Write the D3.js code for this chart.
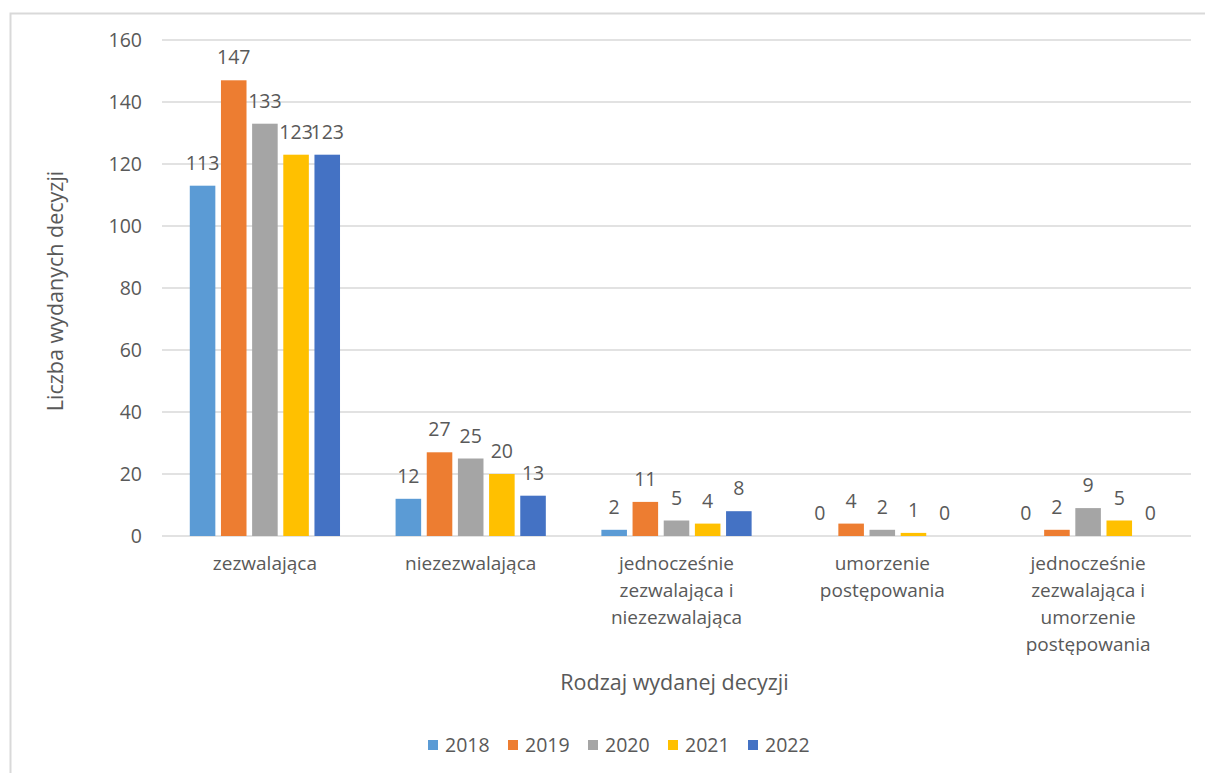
<!DOCTYPE html>
<html><head><meta charset="utf-8">
<script src="https://cdn.jsdelivr.net/npm/d3@7"></script>
<style>body{margin:0;background:#fff}svg{display:block}text{font-family:"Open Sans",sans-serif;fill:#595959}</style>
</head><body><svg id="c" width="1205" height="773"></svg>
<script>
const categories = ["zezwalająca","niezezwalająca","jednocześnie zezwalająca i niezezwalająca","umorzenie postępowania","jednocześnie zezwalająca i umorzenie postępowania"];
const years = ["2018","2019","2020","2021","2022"];
const v2018 = [113,12,2,0,0];
const v2019 = [147,27,11,4,2];
const v2020 = [133,25,5,2,9];
const v2021 = [123,20,4,1,5];
const v2022 = [123,13,8,0,0];
const yTicks = [0,20,40,60,80,100,120,140,160];
const colors = ["#5B9BD5","#ED7D31","#A5A5A5","#FFC000","#4472C4"];
const series = [v2018,v2019,v2020,v2021,v2022];

const svg = d3.select("#c");
svg.append("rect").attr("x",10.5).attr("y",13.5).attr("width",1210).attr("height",800)
  .attr("fill","none").attr("stroke","#d9d9d9").attr("stroke-width",2);

const L=162,R=1191,T=40,B=536;
const y = d3.scaleLinear().domain([0,160]).range([B,T]);
const x0 = d3.scaleBand().domain(categories).range([L,R]).padding(0);
const gpad = x0.bandwidth()*0.135;
const x1 = d3.scaleBand().domain(years).range([gpad, x0.bandwidth()-gpad]).paddingInner(0.18).paddingOuter(0);

// grid
svg.append("g").selectAll("line").data(yTicks).join("line")
  .attr("x1",L).attr("x2",R).attr("y1",d=>y(d)).attr("y2",d=>y(d))
  .attr("stroke","#d9d9d9").attr("stroke-width",1.5);
// y axis labels
const yAx = svg.append("g").attr("transform",`translate(${L},0)`)
  .call(d3.axisLeft(y).tickValues(yTicks).tickSize(0).tickPadding(20));
yAx.select(".domain").remove();
yAx.selectAll("text").attr("font-size",19.5).attr("fill","#595959").attr("font-family","Open Sans");

// bars
const groups = svg.append("g").selectAll("g").data(categories).join("g")
  .attr("transform",d=>`translate(${x0(d)},0)`);
groups.each(function(c,ci){
  const g = d3.select(this);
  const d = years.map((yr,si)=>({yr,si,v:series[si][ci]}));
  g.selectAll("rect").data(d).join("rect")
    .attr("x",e=>x1(e.yr)).attr("width",x1.bandwidth())
    .attr("y",e=>y(e.v)).attr("height",e=>B-y(e.v)).attr("fill",e=>colors[e.si]);
  g.selectAll("text").data(d).join("text")
    .attr("x",e=>x1(e.yr)+x1.bandwidth()/2).attr("y",e=>y(e.v)-16)
    .attr("text-anchor","middle").attr("font-size",19.5).text(e=>e.v);
});

// category labels with wrapping
const ctx = document.createElement("canvas").getContext("2d");
ctx.font = "19px 'Open Sans'";
function wrap(s,maxW){const w=s.split(" ");const lines=[];let cur="";
  w.forEach(t=>{const tryS=cur?cur+" "+t:t; if(ctx.measureText(tryS).width>maxW&&cur){lines.push(cur);cur=t;}else cur=tryS;});
  lines.push(cur);return lines;}
const cl = svg.append("g");
categories.forEach(c=>{
  const lines = wrap(c,170);
  const t = cl.append("text").attr("text-anchor","middle").attr("font-size",19)
    .attr("x",x0(c)+x0.bandwidth()/2).attr("y",570);
  lines.forEach((ln,i)=>t.append("tspan").attr("x",x0(c)+x0.bandwidth()/2).attr("dy",i?27:0).text(ln));
});

// axis titles
svg.append("text").attr("x",(L+R)/2-2).attr("y",690).attr("text-anchor","middle").attr("font-size",21.5).text("Rodzaj wydanej decyzji");
svg.append("text").attr("transform","translate(63,291) rotate(-90)").attr("text-anchor","middle").attr("font-size",21.5).text("Liczba wydanych decyzji");

// legend
const lg = svg.append("g");
const lx = d3.scalePoint().domain(years).range([428,748]);
years.forEach((yr,i)=>{
  lg.append("rect").attr("x",lx(yr)).attr("y",740).attr("width",10).attr("height",10).attr("fill",colors[i]);
  lg.append("text").attr("x",lx(yr)+17).attr("y",752).attr("font-size",19.5).text(yr);
});
</script></body></html>
